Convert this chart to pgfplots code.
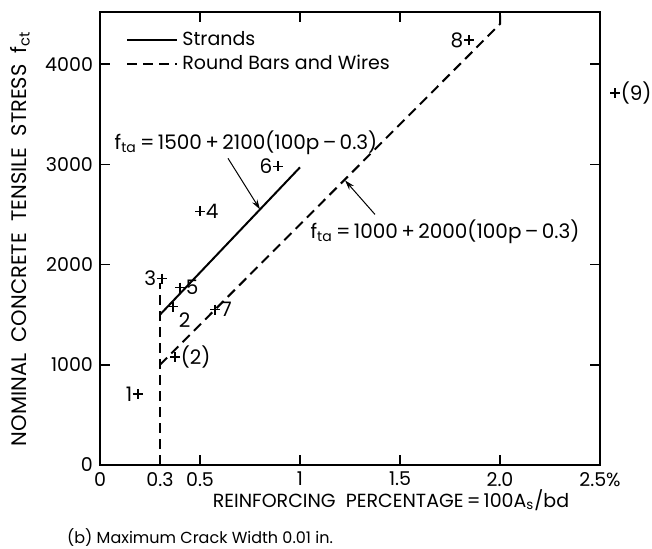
\documentclass[border=0pt]{standalone}
\usepackage{fontspec}
\setmainfont{Poppins}
\usepackage{pgfplots}
\pgfplotsset{compat=1.18}
\usepackage{pgfplotstable}
\usetikzlibrary{arrows.meta}

\pgfplotstableread{
x y lab
0.19 710 1
0.31 1860 3
0.89 2980 6
1.845 4240 8
}\ptsleft
\pgfplotstableread{
x y lab
0.40 1770 5
0.575 1550 7
0.375 1080 (2)
0.50 2530 4
2.575 3710 (9)
}\ptsright
\pgfplotstableread{
x y lab
0.365 1580 2
}\ptsbelow

\begin{document}
\begin{tikzpicture}
\begin{axis}[
  scale only axis,
  width=250pt, height=226.5pt,
  xmin=0, xmax=2.5, ymin=0, ymax=4520,
  clip=false,
  font=\fontsize{9.5}{11}\selectfont,
  /pgf/number format/assume math mode=true,
  axis line style={line width=1pt},
  every tick/.style={black, line width=0.8pt},
  major tick length=5pt,
  xtick={0,0.5,1,1.5,2,2.5},
  xticklabels={0,0.5,1,1.5,2.0,2.5\%},
  extra x ticks={0.3},
  extra x tick labels={0.3},
  extra x tick style={major tick length=0pt},
  ytick={0,1000,2000,3000,4000},
  yticklabels={0,1000,2000,3000,4000},
  xtick pos=both, ytick pos=both,
  xlabel={REINFORCING\ \ PERCENTAGE\,=\,100A\textsubscript{s}/bd},
  xlabel style={at={(axis description cs:0.582,-0.077)}, anchor=center},
  ylabel={NOMINAL\ \ CONCRETE\ \ TENSILE\ \ STRESS\ \ f\textsubscript{ct}},
  ylabel style={at={(axis description cs:-0.16,0.5)}, anchor=center, rotate=0, font=\fontsize{10.5}{12}\selectfont},
  legend style={at={(axis description cs:0.04,0.975)}, anchor=north west, draw=none, fill=none, row sep=-1pt, font=\fontsize{9.5}{11}\selectfont},
  legend cell align=left,
  legend image code/.code={\draw[#1] (0pt,0pt) -- (25pt,0pt);},
  pts/.style={only marks, mark=+, mark size=2.5pt, mark options={line width=0.8pt}, forget plot,
    nodes near coords, point meta=explicit symbolic,
    every node near coord/.append style={anchor=#1, inner sep=2.5pt, font=\fontsize{10}{12}\selectfont}},
]
\addplot[black, line width=1pt] coordinates {(0.3,1500) (1.0,2970)};
\addlegendentry{Strands}
\addplot[black, line width=1pt, dash pattern=on 5pt off 3pt] coordinates {(0.3,1000) (2.0,4400) (2.0,4520)};
\addlegendentry{Round Bars and Wires}
\addplot[black, line width=1pt, dash pattern=on 5pt off 3pt, forget plot] coordinates {(0.3,0) (0.3,1820)};
\addplot[black, pts=east] table[x=x, y=y, meta=lab] {\ptsleft};
\addplot[black, pts=west] table[x=x, y=y, meta=lab] {\ptsright};
\addplot[black, pts=north west] table[x=x, y=y, meta=lab] {\ptsbelow};
\node[font=\fontsize{10}{12}\selectfont] at (axis cs:0.73,3220) {f\textsubscript{ta}\,=\,1500\,+\,2100(100p\,–\,0.3)};
\draw[-{Stealth[length=5pt,width=3pt]}, line width=0.5pt] (axis cs:0.64,3060) -- (axis cs:0.80,2550);
\node[font=\fontsize{10}{12}\selectfont] at (axis cs:1.725,2330) {f\textsubscript{ta}\,=\,1000\,+\,2000(100p\,–\,0.3)};
\draw[-{Stealth[length=5pt,width=3pt]}, line width=0.5pt] (axis cs:1.375,2500) -- (axis cs:1.225,2840);
\node[font=\fontsize{8}{10}\selectfont] at (axis description cs:0.2,-0.16) {(b) Maximum Crack Width 0.01 in.};
\coordinate (SW) at (rel axis cs:0,0);
\end{axis}
\pgfresetboundingbox
\path (SW) ++(-50pt,-42pt) rectangle ++(326pt,274.5pt);
\end{tikzpicture}
\end{document}
